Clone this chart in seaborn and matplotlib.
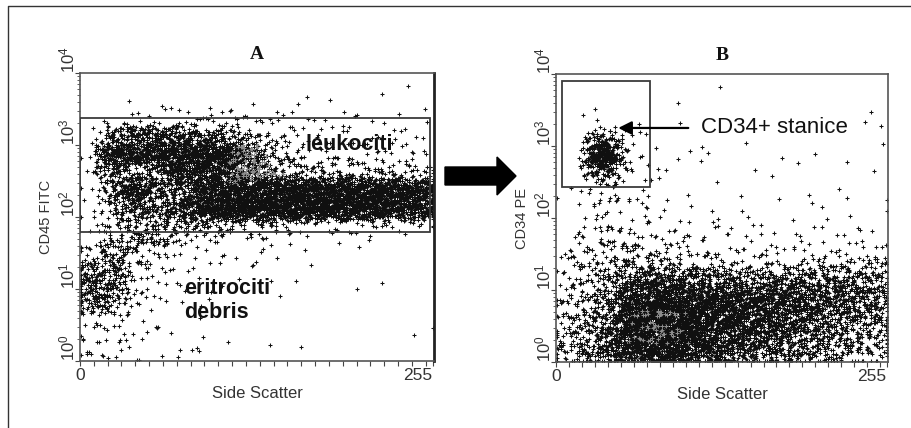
import numpy as np
import pandas as pd
import matplotlib
matplotlib.use("Agg")
import matplotlib.pyplot as plt
import seaborn as sns
from matplotlib.patches import Rectangle, Polygon
from matplotlib.lines import Line2D
from matplotlib.ticker import LogLocator, NullFormatter, MultipleLocator

# ---------------- data ----------------
# Side-scatter bins (channel 0..256) and fluorescence bins (log10, top -> bottom)
SSC_EDGES = np.arange(0, 257, 16)
LOG_EDGES = np.linspace(4, 0, 17)

# Panel A: CD45 FITC vs Side Scatter, event counts per cell (rows top -> bottom)
A_COUNTS = [
    [0, 0, 0, 0, 0, 0, 0, 0, 0, 0, 0, 0, 0, 0, 0, 0],
    [0, 0, 1, 0, 0, 0, 0, 0, 1, 1, 1, 1, 0, 1, 1, 1],
    [0, 1, 4, 6, 6, 6, 6, 5, 4, 4, 3, 3, 2, 2, 2, 1],
    [1, 40, 80, 70, 65, 55, 40, 22, 10, 6, 4, 4, 4, 3, 3, 2],
    [3, 150, 120, 120, 160, 170, 150, 80, 32, 15, 8, 6, 6, 5, 5, 4],
    [2, 60, 15, 50, 120, 130, 110, 75, 45, 28, 22, 20, 20, 18, 18, 15],
    [3, 40, 160, 45, 60, 100, 140, 150, 165, 165, 175, 175, 170, 160, 150, 135],
    [2, 25, 65, 40, 80, 170, 210, 220, 220, 210, 195, 190, 175, 160, 140, 120],
    [2, 15, 30, 35, 30, 25, 20, 15, 12, 10, 8, 8, 6, 6, 6, 5],
    [10, 30, 30, 20, 8, 4, 3, 2, 2, 2, 1, 1, 1, 1, 0, 0],
    [25, 45, 15, 6, 3, 2, 2, 2, 1, 1, 1, 0, 0, 0, 0, 0],
    [60, 55, 12, 4, 3, 2, 1, 1, 1, 0, 1, 0, 0, 1, 0, 0],
    [65, 40, 6, 3, 2, 1, 1, 0, 1, 0, 0, 0, 1, 0, 0, 0],
    [14, 10, 3, 2, 1, 1, 0, 0, 0, 0, 0, 0, 0, 0, 0, 1],
    [6, 4, 3, 2, 1, 1, 0, 0, 0, 1, 0, 0, 0, 0, 1, 0],
    [6, 5, 4, 3, 2, 2, 1, 0, 1, 0, 0, 0, 0, 0, 0, 0],
]
# gray-shaded sub-population in A: (row, col, count) on the grid above
A_GRAY = [(4, 7, 30), (5, 7, 35), (5, 8, 12)]

# Panel B: CD34 PE vs Side Scatter
B_COUNTS = [
    [0, 0, 0, 0, 0, 0, 0, 0, 1, 0, 0, 0, 0, 0, 0, 0],
    [0, 0, 0, 0, 0, 0, 1, 0, 0, 0, 0, 0, 0, 0, 0, 0],
    [0, 1, 2, 1, 0, 0, 0, 0, 0, 0, 0, 0, 0, 0, 0, 1],
    [0, 2, 3, 2, 2, 1, 1, 0, 0, 0, 0, 0, 0, 0, 1, 2],
    [0, 3, 4, 3, 2, 1, 1, 1, 1, 1, 1, 1, 1, 1, 0, 0],
    [0, 3, 4, 3, 3, 2, 1, 1, 0, 0, 1, 0, 0, 0, 0, 1],
    [1, 6, 8, 4, 2, 1, 1, 0, 0, 1, 0, 0, 0, 1, 1, 0],
    [0, 4, 6, 4, 2, 1, 1, 1, 1, 1, 1, 1, 1, 1, 1, 1],
    [1, 6, 8, 6, 5, 4, 3, 3, 3, 2, 2, 2, 2, 2, 2, 2],
    [2, 8, 12, 14, 10, 6, 5, 4, 4, 3, 3, 3, 3, 3, 3, 3],
    [6, 14, 20, 24, 22, 18, 14, 12, 10, 10, 10, 10, 12, 14, 14, 14],
    [8, 18, 25, 65, 85, 80, 65, 60, 58, 55, 55, 55, 55, 52, 48, 42],
    [10, 24, 40, 120, 160, 150, 135, 125, 115, 110, 100, 90, 80, 68, 60, 50],
    [14, 28, 48, 140, 175, 165, 155, 140, 125, 110, 95, 80, 65, 52, 45, 38],
    [18, 32, 55, 145, 175, 160, 140, 120, 100, 85, 72, 62, 50, 40, 34, 30],
    [24, 40, 65, 145, 165, 140, 115, 95, 75, 60, 50, 42, 34, 28, 24, 20],
]
B_GRAY = [(13, 4, 18), (13, 5, 12), (14, 4, 18), (14, 5, 12)]

# CD34+ cluster on a finer grid (SSC 20..56, log10 3.25..2.5)
CORE_SSC_EDGES = np.arange(20, 57, 6)
CORE_LOG_EDGES = np.linspace(3.25, 2.5, 7)
B_CORE_COUNTS = [
    [1, 3, 5, 4, 2, 1],
    [4, 10, 16, 12, 6, 2],
    [8, 24, 38, 30, 10, 3],
    [8, 27, 42, 32, 12, 3],
    [4, 12, 18, 14, 6, 2],
    [1, 4, 6, 5, 3, 1],
]

# gates: (ssc_min, ssc_max, fl_min, fl_max)
A_GATE = (0, 253, 62, 2370)
B_GATE = (5, 72.5, 270, 8000)
ARROW_TIP = (48, 1780)
ARROW_TAIL = (102, 1780)

DECADES = [1, 10, 100, 1000, 10000]
DECADE_LABELS = [r"$10^{0}$", r"$10^{1}$", r"$10^{2}$", r"$10^{3}$", r"$10^{4}$"]
X_TICKS = [0, 255]
X_TICK_LABELS = ["0", "255"]


# ---------------- spread counts over their cells (quasi-random tent placement) ----------------
def vdc(idx, base):
    idx = np.array(idx, dtype=np.int64)
    out = np.zeros(len(idx))
    f = 1.0 / base
    while np.any(idx > 0):
        out += f * (idx % base)
        idx //= base
        f /= base
    return out


def cells_from(grid, xedges, yedges):
    out = []
    for r, row in enumerate(grid):
        for c, n in enumerate(row):
            out.append((xedges[c], xedges[c + 1], yedges[r + 1], yedges[r], n))
    return out


def events(cells, seed=0, sy=1.0):
    """Each cell's events are spread with a tent profile one cell wide on each
    side, so neighbouring cells blend smoothly."""
    xs, ys = [], []
    for i, (x0, x1, y0, y1, n) in enumerate(cells):
        if n <= 0:
            continue
        cid = i + seed * 101
        start = 1 + (cid * 997) % 4001
        k = np.arange(start, start + n)
        u1 = (vdc(k, 2) + cid * 0.6180339887) % 1
        u2 = (vdc(k * 5 + 3, 3) + cid * 0.7548776662) % 1
        v1 = (vdc(k * 7 + 1, 5) + cid * 0.4142135624) % 1
        v2 = (vdc(k * 11 + 2, 7) + cid * 0.5698402910) % 1
        xs.append((x0 + x1) / 2 + (u1 + u2 - 1) * (x1 - x0))
        ys.append((y0 + y1) / 2 + (v1 + v2 - 1) * (y1 - y0) * sy)
    x = np.clip(np.concatenate(xs), 0.6, 255.4)
    y = np.clip(np.concatenate(ys), 0.01, 3.99)
    return pd.DataFrame({"ssc": x, "fl": 10 ** y})


def sub_cells(lst):
    return [(SSC_EDGES[c], SSC_EDGES[c + 1], LOG_EDGES[r + 1], LOG_EDGES[r], n) for r, c, n in lst]


# ---------------- style ----------------
sns.set_style("white")
plt.rcParams["font.family"] = ["Liberation Sans", "DejaVu Sans"]
plt.rcParams["mathtext.default"] = "regular"

fig = plt.figure(figsize=(9.11, 4.28), dpi=100)
W, H = 911.0, 428.0
axA = fig.add_axes([80 / W, 1 - 361 / H, 354 / W, 288 / H])
axB = fig.add_axes([556 / W, 1 - 362 / H, 332 / W, 288 / H])

INK = "#101010"
GRAY_PTS = "#8c8c8c"
FRAME = "#555555"
TXT = "#333333"

dfA = events(cells_from(A_COUNTS, SSC_EDGES, LOG_EDGES), seed=1, sy=0.85)
dgA = events(sub_cells(A_GRAY), seed=2, sy=0.7)
dfB = pd.concat([events(cells_from(B_COUNTS, SSC_EDGES, LOG_EDGES), seed=3),
                 events(cells_from(B_CORE_COUNTS, CORE_SSC_EDGES, CORE_LOG_EDGES), seed=4)])
dgB = events(sub_cells(B_GRAY), seed=5, sy=0.7)

panels = [
    (axA, dfA, dgA, A_GATE, "A", "CD45 FITC", -0.076, -0.0367),
    (axB, dfB, dgB, B_GATE, "B", "CD34 PE", -0.081, -0.039),
]

for ax, df, dg, gate, title, ylab, ylab_x, dec_x in panels:
    sns.scatterplot(data=df, x="ssc", y="fl", ax=ax, marker="+", s=7,
                    linewidth=0.75, color=INK, legend=False)
    sns.scatterplot(data=dg, x="ssc", y="fl", ax=ax, marker="+", s=7,
                    linewidth=0.75, color=GRAY_PTS, legend=False)
    ax.set_yscale("log")
    ax.set_ylim(1, 1e4)
    ax.set_xlim(0, 256)

    x0, x1, y0, y1 = gate
    ax.add_patch(Rectangle((x0, y0), x1 - x0, y1 - y0, fill=False,
                           edgecolor="#3a3a3a", lw=1.3, zorder=5))

    ax.set_yticks(DECADES)
    ax.set_yticklabels([])
    for d, lab in zip(DECADES, DECADE_LABELS):
        ax.text(dec_x, d, lab, transform=ax.get_yaxis_transform(), rotation=90,
                ha="center", va="bottom", fontsize=12, color=TXT)
    ax.yaxis.set_minor_locator(LogLocator(base=10, subs=np.arange(2, 10)))
    ax.yaxis.set_minor_formatter(NullFormatter())
    ax.tick_params(axis="y", which="major", length=3.5, width=0.8, direction="out",
                   color="#444444", left=True)
    ax.tick_params(axis="y", which="minor", length=2.2, width=0.6, direction="out",
                   color="#444444", left=True)

    ax.set_xticks(X_TICKS)
    ax.set_xticklabels(X_TICK_LABELS, fontsize=12.5, color=TXT)
    ax.get_xticklabels()[1].set_ha("right")
    ax.xaxis.set_minor_locator(MultipleLocator(10))
    ax.tick_params(axis="x", which="both", length=3.5, width=0.8, direction="out",
                   color="#444444", pad=1.5, bottom=True)

    for sp in ax.spines.values():
        sp.set_color(FRAME)
        sp.set_linewidth(1.2)
        sp.set_visible(True)

    ax.set_xlabel("Side Scatter", fontsize=12, color=TXT)
    ax.set_ylabel(ylab, fontsize=10.5, color=TXT)
    ax.xaxis.set_label_coords(0.5, -0.087)
    ax.yaxis.set_label_coords(ylab_x, 0.5)
    ax.set_title(title, fontsize=14, fontweight="bold", family="Liberation Serif",
                 pad=10, color="#111111")

axA.spines["right"].set_color("#222222")
axA.spines["right"].set_linewidth(2.0)

# annotations in A
axA.text(163, 1000, "leukociti", fontsize=15.5, fontweight="bold", va="center",
         ha="left", color="#111111", zorder=6)
axA.text(75, 14.2, "eritrociti\ndebris", fontsize=15.5, fontweight="bold", va="top",
         ha="left", color="#111111", linespacing=1.2, zorder=6)

# annotation in B
axB.annotate("", xy=ARROW_TIP, xytext=ARROW_TAIL,
             arrowprops=dict(arrowstyle="-|>", lw=1.6, color="black",
                             mutation_scale=20, shrinkA=0, shrinkB=0), zorder=6)
axB.text(112, 1780, "CD34+ stanice", fontsize=16, va="center", ha="left",
         color="#111111", zorder=6)

# big arrow between panels (figure pixel coordinates -> fraction)
arrow_px = [(445, 167), (497, 167), (497, 157), (516, 176), (497, 195), (497, 185), (445, 185)]
fig.patches.append(Polygon([(x / W, 1 - y / H) for x, y in arrow_px], closed=True,
                           facecolor="black", edgecolor="black",
                           transform=fig.transFigure, figure=fig))

# outer frame (top and left edges of the scanned box)
fig.add_artist(Line2D([8 / W, 8 / W, 1.0], [0.0, 1 - 6 / H, 1 - 6 / H],
                      transform=fig.transFigure, color="#333333", lw=1.0))

fig.savefig("out.png", dpi=100, facecolor="white")
